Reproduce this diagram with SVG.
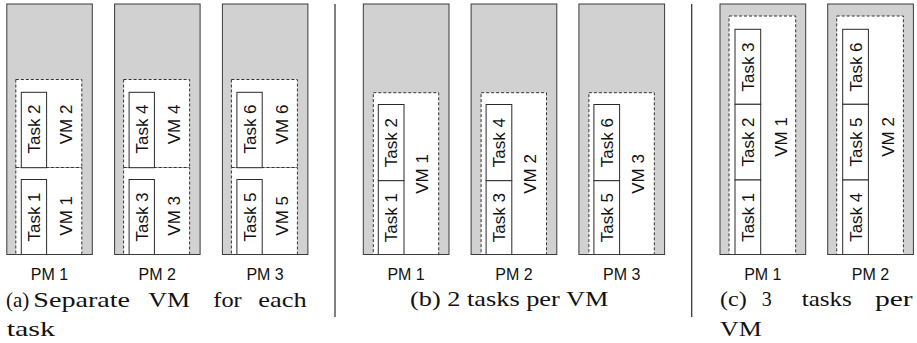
<svg xmlns="http://www.w3.org/2000/svg" width="917" height="343" viewBox="0 0 917 343">
<defs>
<style>
.pm{fill:#d1d1d1;stroke:none}
.pmo{fill:none;stroke:#3a3a3a;stroke-width:1}
.vm{fill:#ffffff;stroke:#333333;stroke-width:1;stroke-dasharray:3 2}
.task{fill:#ffffff;stroke:#2a2a2a;stroke-width:1}
.lbl{font-family:"Liberation Sans",Arial,sans-serif;font-size:17px;fill:#111111;text-anchor:middle}
.pml{font-family:"Liberation Sans",Arial,sans-serif;font-size:16px;fill:#111111;text-anchor:middle}
.cap{font-family:"Liberation Serif","Times New Roman",serif;font-size:21px;fill:#111111}
.sep{stroke:#2a2a2a;stroke-width:1.2}
</style>
</defs>
<rect x="0" y="0" width="917" height="343" fill="#ffffff"/>

<!-- Panel (a) -->
<g id="a-pm1" transform="translate(6.8 0)">
  <rect class="pm" x="0" y="4" width="85.5" height="250.5"/>
  <g id="a-vm2"><rect class="vm" x="9" y="79.5" width="66" height="88"/><text class="lbl" transform="translate(59 124.5) rotate(-90)" dy="0.36em">VM 2</text></g>
  <g id="a-vm1"><rect class="vm" x="9" y="167.5" width="66" height="87"/><text class="lbl" transform="translate(59 215.8) rotate(-90)" dy="0.36em">VM 1</text></g>
  <g id="a-task2"><rect class="task" x="14.5" y="92.3" width="25.3" height="75.4"/><text class="lbl" transform="translate(27.2 129) rotate(-90)" dy="0.36em">Task 2</text></g>
  <g id="a-task1"><rect class="task" x="14.5" y="179.5" width="25.3" height="75"/><text class="lbl" transform="translate(27.2 217) rotate(-90)" dy="0.36em">Task 1</text></g>
  <rect class="pmo" x="0" y="4" width="85.5" height="250.5"/>
  <text class="pml" x="42.7" y="280">PM 1</text>
</g>
<g id="a-pm2" transform="translate(114.6 0)">
  <rect class="pm" x="0" y="4" width="85.5" height="250.5"/>
  <g id="a-vm4"><rect class="vm" x="9" y="79.5" width="66" height="88"/><text class="lbl" transform="translate(59 124.5) rotate(-90)" dy="0.36em">VM 4</text></g>
  <g id="a-vm3"><rect class="vm" x="9" y="167.5" width="66" height="87"/><text class="lbl" transform="translate(59 215.8) rotate(-90)" dy="0.36em">VM 3</text></g>
  <g id="a-task4"><rect class="task" x="14.5" y="92.3" width="25.3" height="75.4"/><text class="lbl" transform="translate(27.2 129) rotate(-90)" dy="0.36em">Task 4</text></g>
  <g id="a-task3"><rect class="task" x="14.5" y="179.5" width="25.3" height="75"/><text class="lbl" transform="translate(27.2 217) rotate(-90)" dy="0.36em">Task 3</text></g>
  <rect class="pmo" x="0" y="4" width="85.5" height="250.5"/>
  <text class="pml" x="42.7" y="280">PM 2</text>
</g>
<g id="a-pm3" transform="translate(222.4 0)">
  <rect class="pm" x="0" y="4" width="85.5" height="250.5"/>
  <g id="a-vm6"><rect class="vm" x="9" y="79.5" width="66" height="88"/><text class="lbl" transform="translate(59 124.5) rotate(-90)" dy="0.36em">VM 6</text></g>
  <g id="a-vm5"><rect class="vm" x="9" y="167.5" width="66" height="87"/><text class="lbl" transform="translate(59 215.8) rotate(-90)" dy="0.36em">VM 5</text></g>
  <g id="a-task6"><rect class="task" x="14.5" y="92.3" width="25.3" height="75.4"/><text class="lbl" transform="translate(27.2 129) rotate(-90)" dy="0.36em">Task 6</text></g>
  <g id="a-task5"><rect class="task" x="14.5" y="179.5" width="25.3" height="75"/><text class="lbl" transform="translate(27.2 217) rotate(-90)" dy="0.36em">Task 5</text></g>
  <rect class="pmo" x="0" y="4" width="85.5" height="250.5"/>
  <text class="pml" x="42.7" y="280">PM 3</text>
</g>
<g id="caption-a" class="cap">
  <text x="6" y="307">(a)</text>
  <text x="33.3" y="307" textLength="96.7" lengthAdjust="spacingAndGlyphs">Separate</text>
  <text x="148.3" y="307" textLength="41.7" lengthAdjust="spacingAndGlyphs">VM</text>
  <text x="213.3" y="307" textLength="28.4" lengthAdjust="spacingAndGlyphs">for</text>
  <text x="258.3" y="307" textLength="48.4" lengthAdjust="spacingAndGlyphs">each</text>
  <text x="6.7" y="336" textLength="48.3" lengthAdjust="spacingAndGlyphs">task</text>
</g>

<g id="separators">
  <line class="sep" x1="335" y1="4" x2="335" y2="317"/>
  <line class="sep" x1="691.7" y1="4" x2="691.7" y2="317"/>
</g>

<!-- Panel (b) -->
<g id="b-pm1" transform="translate(363.3 0)">
  <rect class="pm" x="0" y="4" width="85.7" height="250.5"/>
  <g id="b-vm1"><rect class="vm" x="10" y="92.7" width="65.4" height="161.8"/><text class="lbl" transform="translate(59 174) rotate(-90)" dy="0.36em">VM 1</text></g>
  <g id="b-task2"><rect class="task" x="15" y="104.5" width="25.7" height="76.2"/><text class="lbl" transform="translate(27.8 142.6) rotate(-90)" dy="0.36em">Task 2</text></g>
  <g id="b-task1"><rect class="task" x="15" y="180.7" width="25.7" height="73.8"/><text class="lbl" transform="translate(27.8 217.6) rotate(-90)" dy="0.36em">Task 1</text></g>
  <rect class="pmo" x="0" y="4" width="85.7" height="250.5"/>
  <text class="pml" x="42.8" y="280">PM 1</text>
</g>
<g id="b-pm2" transform="translate(471.1 0)">
  <rect class="pm" x="0" y="4" width="85.7" height="250.5"/>
  <g id="b-vm2"><rect class="vm" x="10" y="92.7" width="65.4" height="161.8"/><text class="lbl" transform="translate(59 174) rotate(-90)" dy="0.36em">VM 2</text></g>
  <g id="b-task4"><rect class="task" x="15" y="104.5" width="25.7" height="76.2"/><text class="lbl" transform="translate(27.8 142.6) rotate(-90)" dy="0.36em">Task 4</text></g>
  <g id="b-task3"><rect class="task" x="15" y="180.7" width="25.7" height="73.8"/><text class="lbl" transform="translate(27.8 217.6) rotate(-90)" dy="0.36em">Task 3</text></g>
  <rect class="pmo" x="0" y="4" width="85.7" height="250.5"/>
  <text class="pml" x="42.8" y="280">PM 2</text>
</g>
<g id="b-pm3" transform="translate(578.9 0)">
  <rect class="pm" x="0" y="4" width="85.7" height="250.5"/>
  <g id="b-vm3"><rect class="vm" x="10" y="92.7" width="65.4" height="161.8"/><text class="lbl" transform="translate(59 174) rotate(-90)" dy="0.36em">VM 3</text></g>
  <g id="b-task6"><rect class="task" x="15" y="104.5" width="25.7" height="76.2"/><text class="lbl" transform="translate(27.8 142.6) rotate(-90)" dy="0.36em">Task 6</text></g>
  <g id="b-task5"><rect class="task" x="15" y="180.7" width="25.7" height="73.8"/><text class="lbl" transform="translate(27.8 217.6) rotate(-90)" dy="0.36em">Task 5</text></g>
  <rect class="pmo" x="0" y="4" width="85.7" height="250.5"/>
  <text class="pml" x="42.8" y="280">PM 3</text>
</g>
<g id="caption-b" class="cap">
  <text x="410" y="306" textLength="198.3" lengthAdjust="spacingAndGlyphs">(b) 2 tasks per VM</text>
</g>

<!-- Panel (c) -->
<g id="c-pm1" transform="translate(720 0)">
  <rect class="pm" x="0" y="4" width="85.7" height="250.5"/>
  <g id="c-vm1"><rect class="vm" x="9" y="16" width="66.7" height="238.5"/><text class="lbl" transform="translate(60.5 137) rotate(-90)" dy="0.36em">VM 1</text></g>
  <g id="c-task3"><rect class="task" x="15" y="29.3" width="25.7" height="75"/><text class="lbl" transform="translate(27.8 67) rotate(-90)" dy="0.36em">Task 3</text></g>
  <g id="c-task2"><rect class="task" x="15" y="104.3" width="25.7" height="75.7"/><text class="lbl" transform="translate(27.8 142) rotate(-90)" dy="0.36em">Task 2</text></g>
  <g id="c-task1"><rect class="task" x="15" y="180" width="25.7" height="74.5"/><text class="lbl" transform="translate(27.8 217.3) rotate(-90)" dy="0.36em">Task 1</text></g>
  <rect class="pmo" x="0" y="4" width="85.7" height="250.5"/>
  <text class="pml" x="42.8" y="280">PM 1</text>
</g>
<g id="c-pm2" transform="translate(827.7 0)">
  <rect class="pm" x="0" y="4" width="85.7" height="250.5"/>
  <g id="c-vm2"><rect class="vm" x="9" y="16" width="66.7" height="238.5"/><text class="lbl" transform="translate(60.5 137) rotate(-90)" dy="0.36em">VM 2</text></g>
  <g id="c-task6"><rect class="task" x="15" y="29.3" width="25.7" height="75"/><text class="lbl" transform="translate(27.8 67) rotate(-90)" dy="0.36em">Task 6</text></g>
  <g id="c-task5"><rect class="task" x="15" y="104.3" width="25.7" height="75.7"/><text class="lbl" transform="translate(27.8 142) rotate(-90)" dy="0.36em">Task 5</text></g>
  <g id="c-task4"><rect class="task" x="15" y="180" width="25.7" height="74.5"/><text class="lbl" transform="translate(27.8 217.3) rotate(-90)" dy="0.36em">Task 4</text></g>
  <rect class="pmo" x="0" y="4" width="85.7" height="250.5"/>
  <text class="pml" x="42.8" y="280">PM 2</text>
</g>
<g id="caption-c" class="cap">
  <text x="720" y="306" textLength="26.7" lengthAdjust="spacingAndGlyphs">(c)</text>
  <text x="761.7" y="306" textLength="10" lengthAdjust="spacingAndGlyphs">3</text>
  <text x="801.7" y="306" textLength="50" lengthAdjust="spacingAndGlyphs">tasks</text>
  <text x="875" y="306" textLength="37.7" lengthAdjust="spacingAndGlyphs">per</text>
  <text x="720" y="336" textLength="41.7" lengthAdjust="spacingAndGlyphs">VM</text>
</g>
</svg>
